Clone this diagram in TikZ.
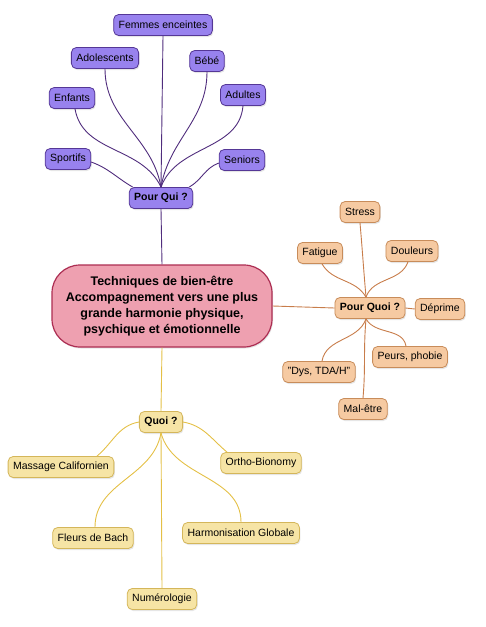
\documentclass[tikz,border=0pt]{standalone}
\usepackage{fontspec}
\setmainfont{Liberation Sans}
\usepackage{xcolor}
\usepackage{tikz}
\usetikzlibrary{positioning,shadows}

\definecolor{quifill}{RGB}{152,130,238}
\definecolor{quidraw}{RGB}{85,55,150}
\definecolor{quiline}{RGB}{80,45,125}
\definecolor{pqofill}{RGB}{246,202,162}
\definecolor{pqodraw}{RGB}{200,140,90}
\definecolor{pqoline}{RGB}{200,125,75}
\definecolor{quoifill}{RGB}{246,228,165}
\definecolor{quoidraw}{RGB}{212,182,90}
\definecolor{quoiline}{RGB}{228,192,70}
\definecolor{mainfill}{RGB}{238,160,176}
\definecolor{maindraw}{RGB}{172,45,82}

\begin{document}
\begin{tikzpicture}[
    x=1pt, y=1pt,
    box/.style={rectangle, rounded corners=5pt, thick, minimum height=21pt,
                inner xsep=5pt, inner ysep=3pt, font=\fontsize{10.5}{12}\selectfont,
                drop shadow={opacity=0.2, shadow xshift=1pt, shadow yshift=-1.5pt}},
    hub/.style={box, font=\fontsize{10.5}{12}\selectfont\bfseries},
    qui/.style={draw=quidraw, fill=quifill},
    pqo/.style={draw=pqodraw, fill=pqofill},
    quoi/.style={draw=quoidraw, fill=quoifill},
    main/.style={rectangle, rounded corners=28pt, draw=maindraw, fill=mainfill, line width=1.2pt,
                 minimum width=220pt, minimum height=82pt, align=center,
                 font=\fontsize{12.5}{16}\selectfont\bfseries,
                 drop shadow={opacity=0.2, shadow xshift=1pt, shadow yshift=-1.5pt}},
    quilink/.style={draw=quiline, line width=0.9pt},
    pqolink/.style={draw=pqoline, line width=0.9pt},
    quoilink/.style={draw=quoiline, line width=0.9pt}
]
    \useasboundingbox (0,0) rectangle (485,-627);

    % Centre
    \node[main] (main) at (162,-306)
        {Techniques de bien-être\\Accompagnement vers une plus\\grande harmonie physique,\\psychique et émotionnelle};

    % Pour Qui
    \node[hub, qui] (pq) at (161,-198) {Pour Qui ?};
    \node[box, qui] (femmes) at (163,-25) {Femmes enceintes};
    \node[box, qui] (ado) at (105,-58) {Adolescents};
    \node[box, qui] (bebe) at (207,-61) {Bébé};
    \node[box, qui] (enfants) at (72,-98) {Enfants};
    \node[box, qui] (adultes) at (243,-95) {Adultes};
    \node[box, qui] (sportifs) at (68,-159) {Sportifs};
    \node[box, qui] (seniors) at (242,-160) {Seniors};

    % Pour Quoi
    \node[hub, pqo] (pqo) at (370,-308) {Pour Quoi ?};
    \node[box, pqo] (stress) at (360,-212) {Stress};
    \node[box, pqo] (fatigue) at (320,-253) {Fatigue};
    \node[box, pqo] (douleurs) at (412,-251) {Douleurs};
    \node[box, pqo] (deprime) at (440,-309) {Déprime};
    \node[box, pqo] (peurs) at (410,-357) {Peurs, phobie};
    \node[box, pqo] (dys) at (319,-372) {"Dys, TDA/H"};
    \node[box, pqo] (malet) at (363,-409) {Mal-être};

    % Quoi
    \node[hub, quoi] (quoi) at (161,-422) {Quoi ?};
    \node[box, quoi] (massage) at (61,-467) {Massage Californien};
    \node[box, quoi] (ortho) at (261,-463) {Ortho-Bionomy};
    \node[box, quoi] (fleurs) at (93,-538) {Fleurs de Bach};
    \node[box, quoi] (harmo) at (241,-533) {Harmonisation Globale};
    \node[box, quoi] (numero) at (162,-599) {Numérologie};

    % Links
    \draw[quilink] (pq.south) -- (main.north);
    \draw[pqolink] (main.east) -- (pqo.west);
    \draw[quoilink] (main.south) -- (quoi.north);

    \draw[quilink] (pq.north) -- (femmes.south);
    \draw[quilink] (pq.north) to[out=100, in=-90] (ado.south);
    \draw[quilink] (pq.north) to[out=115, in=-80] ([xshift=3pt]enfants.south);
    \draw[quilink] ([xshift=4pt]pq.north west) to[out=150, in=-20] ([yshift=-3pt]sportifs.east);
    \draw[quilink] (pq.north) to[out=80, in=-90] (bebe.south);
    \draw[quilink] (pq.north) to[out=70, in=-95] (adultes.south);
    \draw[quilink] ([xshift=-4pt]pq.north east) to[out=30, in=-160] ([yshift=-3pt]seniors.west);

    \draw[pqolink] ([xshift=-4pt]pqo.north) to[out=95, in=-85] (stress.south);
    \draw[pqolink] ([xshift=-4pt]pqo.north) to[out=120, in=-60] ([xshift=2pt]fatigue.south);
    \draw[pqolink] ([xshift=-4pt]pqo.north) to[out=70, in=-110] ([xshift=-4pt]douleurs.south);
    \draw[pqolink] (pqo.east) -- (deprime.west);
    \draw[pqolink] ([xshift=-4pt]pqo.south) to[out=-60, in=100] ([xshift=-4pt]peurs.north);
    \draw[pqolink] ([xshift=-4pt]pqo.south) to[out=-110, in=80] ([xshift=3pt]dys.north);
    \draw[pqolink] ([xshift=-4pt]pqo.south) to[out=-95, in=85] (malet.north);

    \draw[quoilink] (quoi.west) to[out=190, in=40] ([xshift=36pt]massage.north);
    \draw[quoilink] (quoi.east) to[out=-10, in=140] ([xshift=-34pt]ortho.north);
    \draw[quoilink] (quoi.south) to[out=-100, in=90] ([xshift=2pt]fleurs.north);
    \draw[quoilink] (quoi.south) to[out=-75, in=90] (harmo.north);
    \draw[quoilink] (quoi.south) -- (numero.north);
\end{tikzpicture}
\end{document}
